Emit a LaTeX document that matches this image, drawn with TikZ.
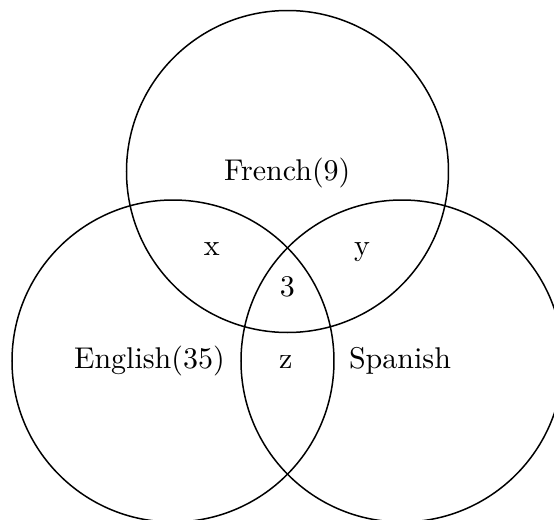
\documentclass[tikz,border=0pt]{standalone}
\newcommand{\bigtxt}[1]{\scalebox{1.5}{#1}}
\begin{document}
\begin{tikzpicture}[x=0.5pt,y=-0.5pt,
  lbl/.style={font=\fontsize{10}{12}\selectfont, anchor=base, inner sep=0pt},
  ring/.style={draw=black, line width=0.75pt}]
\useasboundingbox (0,0) rectangle (554,520);
\clip (0,0) rectangle (554,520);
\coordinate (cF) at (287.5,171.5);
\coordinate (cE) at (173,361);
\coordinate (cS) at (402,361);
\draw[ring] (cF) circle[radius=80.5pt];
\draw[ring] (cE) circle[radius=80.5pt];
\draw[ring] (cS) circle[radius=80.5pt];
\node[lbl] (french) at (287.2,180) {\bigtxt{French(9)}};
\node[lbl] (xv) at (211.7,255) {\bigtxt{x}};
\node[lbl] (yv) at (362,255) {\bigtxt{y}};
\node[lbl] (three) at (287.3,296.7) {\bigtxt{3}};
\node[lbl] (english) at (149.4,368) {\bigtxt{English(35)}};
\node[lbl] (zv) at (285.7,368) {\bigtxt{z}};
\node[lbl] (spanish) at (400,368) {\bigtxt{Spanish}};
\end{tikzpicture}
\end{document}
